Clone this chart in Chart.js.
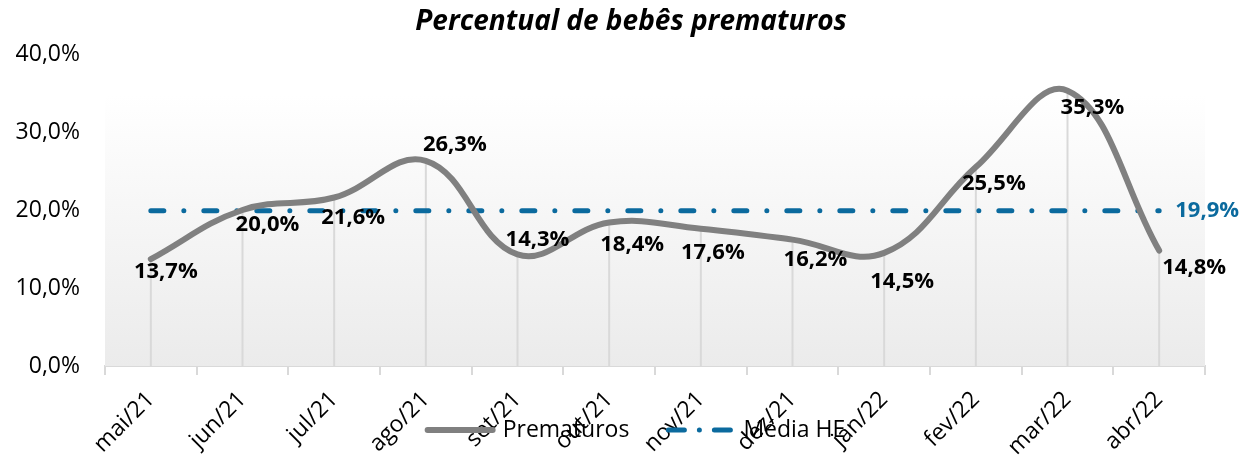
<!DOCTYPE html>
<html lang="pt">
<head>
<meta charset="utf-8">
<title>Percentual de bebês prematuros</title>
<script src="https://cdn.jsdelivr.net/npm/chart.js@4/dist/chart.umd.min.js"></script>
<style>
  html, body { margin: 0; padding: 0; background: #fff; }
  .chart-wrap { width: 1258px; height: 461px; }
</style>
</head>
<body>
<div class="chart-wrap"><canvas id="chart" width="1258" height="461"></canvas></div>
<script>
const TITLE = 'Percentual de bebês prematuros';
const months = ['mai/21', 'jun/21', 'jul/21', 'ago/21', 'set/21', 'out/21',
  'nov/21', 'dez/21', 'jan/22', 'fev/22', 'mar/22', 'abr/22'];
const prematuros = [13.7, 20.0, 21.6, 26.3, 14.3, 18.4, 17.6, 16.2, 14.5, 25.5, 35.3, 14.8];
const mediaHE = [19.9, 19.9, 19.9, 19.9, 19.9, 19.9, 19.9, 19.9, 19.9, 19.9, 19.9, 19.9];
const yTicks = [0, 10, 20, 30, 40];

// where each data label sits, relative to its point (px)
const labelDx = [15, 25, 19, 29, 20, 23, 12, 23, 18, 18, 25, 35];
const labelDy = [13, 15, 20, -16, -15, 22, 24, 20, 29, 17, 17, 17];

const FONT = '"Open Sans", "Noto Sans", sans-serif';
const GRAY = '#808080';
const BLUE = '#0b6a9e';
const LIGHT = '#d9d9d9';
const MEDIA_DASH = [13, 20, 0, 20];

const fmt = (v) => `${v.toFixed(1).replace('.', ',')}%`;

/**
 * Draws plot background, drop lines, value labels, title and legend.
 */
const decorations = {
  id: 'decorations',
  beforeDatasetsDraw(chart) {
    const { ctx, chartArea } = chart;
    const x = chart.scales.x;
    const y = chart.scales.y;
    const top = chartArea.top + 41;
    const grad = ctx.createLinearGradient(0, top, 0, chartArea.bottom);
    grad.addColorStop(0, '#ffffff');
    grad.addColorStop(1, '#ebebeb');
    ctx.save();
    ctx.fillStyle = grad;
    ctx.fillRect(x.left, top, x.right - x.left, chartArea.bottom - top);

    // vertical drop lines from each point to the axis
    ctx.strokeStyle = LIGHT;
    ctx.lineWidth = 2;
    prematuros.forEach((v, i) => {
      const px = x.getPixelForValue(i);
      ctx.beginPath();
      ctx.moveTo(px, y.getPixelForValue(v));
      ctx.lineTo(px, y.getPixelForValue(0));
      ctx.stroke();
    });
    ctx.restore();
  },
  afterDatasetsDraw(chart) {
    const { ctx } = chart;
    const x = chart.scales.x;
    const y = chart.scales.y;
    ctx.save();
    ctx.textAlign = 'center';
    ctx.textBaseline = 'middle';
    ctx.font = `bold 22px ${FONT}`;
    ctx.fillStyle = '#000';
    prematuros.forEach((v, i) => {
      ctx.fillText(fmt(v), x.getPixelForValue(i) + labelDx[i], y.getPixelForValue(v) + labelDy[i]);
    });
    const last = mediaHE.length - 1;
    ctx.fillStyle = BLUE;
    ctx.fillText(fmt(mediaHE[last]), x.getPixelForValue(last) + 48, y.getPixelForValue(mediaHE[last]));
    ctx.restore();
  },
  afterDraw(chart) {
    const { ctx, width } = chart;
    ctx.save();
    ctx.fillStyle = '#000';
    ctx.textBaseline = 'middle';
    ctx.textAlign = 'center';
    ctx.font = `italic bold 28px ${FONT}`;
    ctx.fillText(TITLE, width / 2 + 2, 22);

    // legend
    const ly = 430;
    const sample = 71;
    ctx.font = `23px ${FONT}`;
    ctx.textAlign = 'left';
    const items = chart.data.datasets.map((ds) => ({
      label: ds.label,
      color: ds.borderColor,
      width: ds.borderWidth,
      dash: ds.borderDash || [],
      textW: ctx.measureText(ds.label).width,
    }));
    const gap = 36;
    const total = items.reduce((s, it) => s + sample + 7 + it.textW, 0) + gap * (items.length - 1);
    let lx = width / 2 - total / 2 + 6;
    items.forEach((it) => {
      ctx.strokeStyle = it.color;
      ctx.lineWidth = it.width;
      ctx.lineCap = 'round';
      ctx.setLineDash(it.dash.length ? [16, 15, 0, 15] : []);
      ctx.beginPath();
      ctx.moveTo(lx + 3, ly);
      ctx.lineTo(lx + sample - 3, ly);
      ctx.stroke();
      ctx.setLineDash([]);
      ctx.fillText(it.label, lx + sample + 7, ly);
      lx += sample + 7 + it.textW + gap;
    });
    ctx.restore();
  },
};

const config = {
  type: 'line',
  data: {
    labels: months,
    datasets: [
      {
        label: 'Prematuros',
        data: prematuros,
        borderColor: GRAY,
        borderWidth: 6,
        tension: 0.4,
        pointRadius: 0,
        borderCapStyle: 'round',
        fill: false,
      },
      {
        label: 'Média HE',
        data: mediaHE,
        borderColor: BLUE,
        borderWidth: 5,
        borderDash: MEDIA_DASH,
        borderCapStyle: 'round',
        pointRadius: 0,
        tension: 0,
        fill: false,
      },
    ],
  },
  options: {
    responsive: false,
    animation: false,
    events: [],
    layout: { padding: { top: 54, right: 53, left: 0, bottom: 0 } },
    plugins: {
      legend: { display: false },
      title: { display: false },
      tooltip: { enabled: false },
    },
    scales: {
      x: {
        offset: true,
        grid: {
          offset: true,
          drawOnChartArea: false,
          drawTicks: true,
          tickLength: 9,
          color: LIGHT,
          lineWidth: 2,
        },
        border: { color: LIGHT, width: 2 },
        ticks: {
          minRotation: 45,
          maxRotation: 45,
          autoSkip: false,
          padding: 11,
          color: '#000',
          font: { family: FONT, size: 23 },
        },
        afterFit(scale) { scale.height = 95; },
      },
      y: {
        min: yTicks[0],
        max: yTicks[yTicks.length - 1],
        afterBuildTicks(scale) { scale.ticks = yTicks.map((v) => ({ value: v })); },
        grid: { display: false, drawTicks: false },
        border: { display: false },
        ticks: {
          padding: 25,
          color: '#000',
          font: { family: FONT, size: 23 },
          callback: (v) => fmt(v),
        },
        afterFit(scale) { scale.width = 105; },
      },
    },
  },
  plugins: [decorations],
};

new Chart(document.getElementById('chart'), config);
</script>
</body>
</html>
